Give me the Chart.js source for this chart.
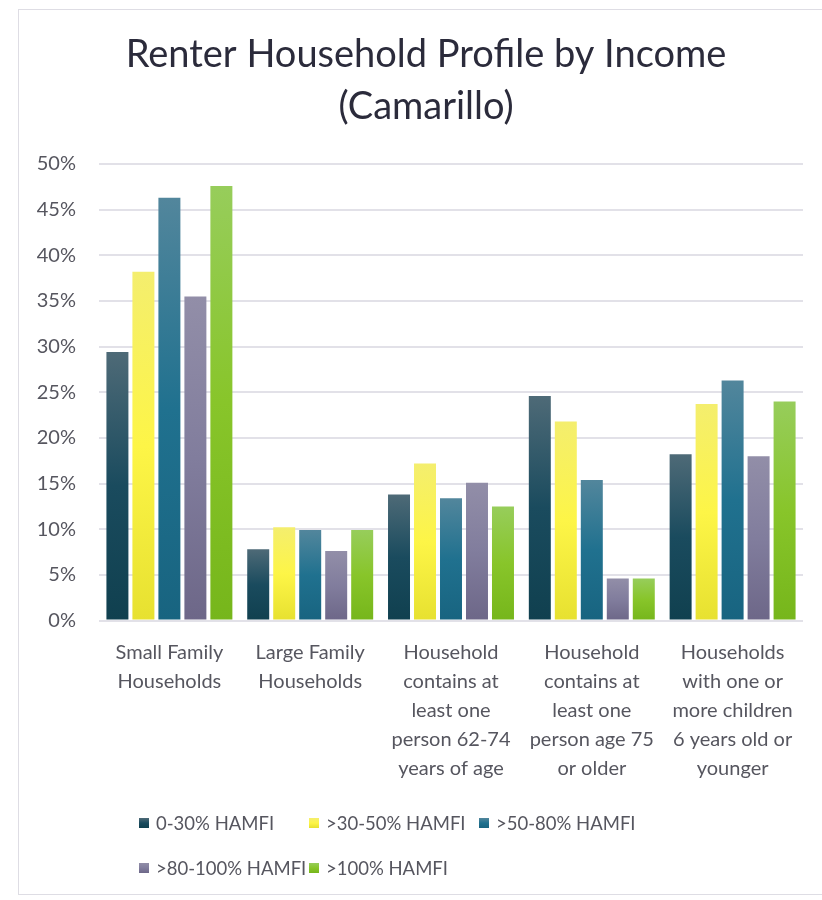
<!DOCTYPE html>
<html><head><meta charset="utf-8">
<script src="https://cdn.jsdelivr.net/npm/chart.js@4"></script>
<style>
html,body{margin:0;padding:0;background:#fff;overflow:hidden;}
#frame{position:absolute;left:18px;top:9px;width:900px;height:886px;border:1.5px solid #dedde4;box-sizing:border-box;}
#wrap{position:absolute;left:0;top:0;width:822px;height:900px;}
</style></head><body>
<div id="frame"></div>
<div id="wrap"><canvas id="c" width="822" height="900"></canvas></div>
<script>
const titleLines = ['Renter Household Profile by Income', '(Camarillo)'];
const categories = [
  ["Small Family", "Households"],
  ["Large Family", "Households"],
  ["Household", "contains at", "least one", "person 62-74", "years of age"],
  ["Household", "contains at", "least one", "person age 75", "or older"],
  ["Households", "with one or", "more children", "6 years old or", "younger"]
];
const seriesNames = ["0-30% HAMFI", ">30-50% HAMFI", ">50-80% HAMFI", ">80-100% HAMFI", ">100% HAMFI"];
const hamfi0to30   = [29.4, 7.8, 13.8, 24.6, 18.2];
const hamfi30to50  = [38.2, 10.2, 17.2, 21.8, 23.7];
const hamfi50to80  = [46.3, 9.9, 13.4, 15.4, 26.3];
const hamfi80to100 = [35.5, 7.6, 15.1, 4.6, 18.0];
const hamfiOver100 = [47.6, 9.9, 12.5, 4.6, 24.0];
const yTickValues = [0, 5, 10, 15, 20, 25, 30, 35, 40, 45, 50];

const seriesValues = [hamfi0to30, hamfi30to50, hamfi50to80, hamfi80to100, hamfiOver100];
const gradStops = [
  ['#4e6a77', '#1a4b5e', '#10404f'],
  ['#f4ee6e', '#fdf547', '#e7e130'],
  ['#52869c', '#20718f', '#186480'],
  ['#928ea8', '#817d9d', '#6d6788'],
  ['#97cd5b', '#88c52a', '#76b61b']
];

function makeGrad(c, y0, y1, stops) {
  const g = c.createLinearGradient(0, y0, 0, y1);
  g.addColorStop(0, stops[0]);
  g.addColorStop(0.5, stops[1]);
  g.addColorStop(1, stops[2]);
  return g;
}
function barFill(stops) {
  return (ctx) => {
    const chart = ctx.chart;
    if (!chart.chartArea || ctx.type !== 'data') return stops[1];
    const y = chart.scales.y;
    const top = y.getPixelForValue(ctx.raw);
    const base = y.getPixelForValue(0);
    return makeGrad(chart.ctx, top, base, stops);
  };
}

const chartTitle = {
  id: 'chartTitle',
  afterDraw(chart) {
    const c = chart.ctx;
    c.save();
    c.fillStyle = '#2b2b3b';
    c.font = '38px Lato';
    c.textAlign = 'center';
    c.textBaseline = 'middle';
    titleLines.forEach((t, i) => c.fillText(t, 426, 55 + i * 52));
    c.restore();
  }
};

const gridLegend = {
  id: 'gridLegend',
  afterDraw(chart) {
    const c = chart.ctx;
    c.save();
    chart.data.datasets.forEach((ds, i) => {
      const col = i % 3, row = Math.floor(i / 3);
      const x = 139 + col * 170, y = 823 + row * 45;
      c.fillStyle = makeGrad(c, y - 5, y + 5, gradStops[i]);
      c.fillRect(x, y - 5, 10, 10);
      c.fillStyle = '#56565f';
      c.font = '18.5px Lato';
      c.textBaseline = 'middle';
      c.textAlign = 'left';
      c.fillText(ds.label, x + 17, y + 1);
    });
    c.restore();
  }
};

new Chart(document.getElementById('c'), {
  type: 'bar',
  data: {
    labels: categories,
    datasets: seriesNames.map((name, i) => ({
      label: name,
      data: seriesValues[i],
      backgroundColor: barFill(gradStops[i]),
      borderWidth: 0,
      categoryPercentage: 0.923,
      barPercentage: 0.846
    }))
  },
  options: {
    responsive: false,
    animation: false,
    layout: { padding: { left: 0, right: 19, top: 164, bottom: 110 } },
    plugins: {
      legend: { display: false },
      tooltip: { enabled: false },
      title: { display: false }
    },
    scales: {
      x: {
        grid: { display: false, drawTicks: false },
        border: { display: false },
        ticks: {
          color: '#56565f',
          font: { family: 'Lato', size: 20, lineHeight: 1.45 },
          padding: 18,
          maxRotation: 0,
          autoSkip: false
        },
        afterFit: (s) => { s.height = 169.5; }
      },
      y: {
        min: 0, max: 50,
        afterBuildTicks: (s) => { s.ticks = yTickValues.map(v => ({ value: v })); },
        grid: { color: '#e2e1e8', lineWidth: 2, drawTicks: false },
        border: { display: false },
        ticks: {
          color: '#56565f',
          font: { family: 'Lato', size: 20 },
          padding: 23,
          callback: (v) => v + '%'
        },
        afterFit: (s) => { s.width = 99; }
      }
    }
  },
  plugins: [chartTitle, gridLegend]
});
</script>
</body></html>
